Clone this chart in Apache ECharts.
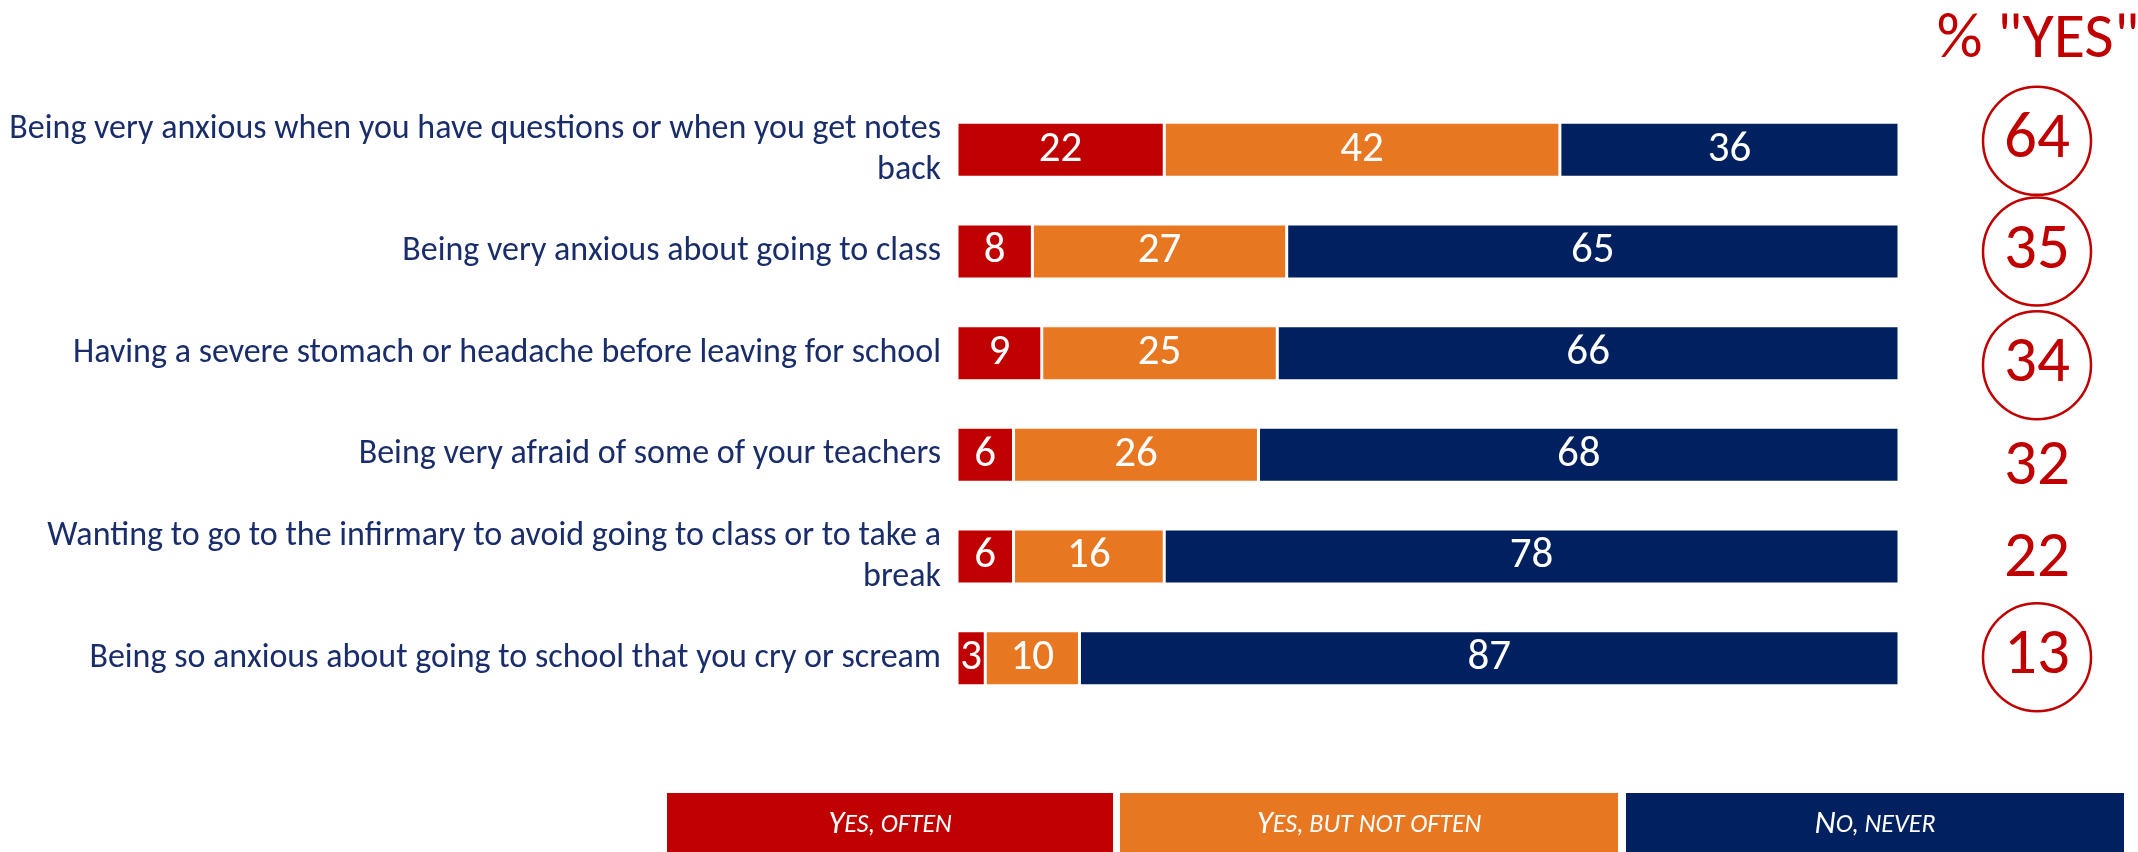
<!DOCTYPE html>
<html>
<head>
<meta charset="utf-8">
<title>School anxiety</title>
<script src="https://cdn.jsdelivr.net/npm/echarts@6/dist/echarts.min.js"></script>
<style>
  html, body { margin: 0; padding: 0; background: #ffffff; }
  #chart { width: 2138px; height: 852px; }
</style>
</head>
<body>
<div id="chart"></div>
<script>
// Survey items (top to bottom)
const categories = [
  'Being very anxious when you have questions or when you get notes\nback',
  'Being very anxious about going to class',
  'Having a severe stomach or headache before leaving for school',
  'Being very afraid of some of your teachers',
  'Wanting to go to the infirmary to avoid going to class or to take a\nbreak',
  'Being so anxious about going to school that you cry or scream'
];

// Answer shares, in percent
const yesOften    = [22, 8, 9, 6, 6, 3];
const yesNotOften = [42, 27, 25, 26, 16, 10];
const noNever     = [36, 65, 66, 68, 78, 87];

// Total "yes" column and which totals are ringed
const yesTotal  = [64, 35, 34, 32, 22, 13];
const yesRinged = [true, true, true, false, false, true];

const seriesNames = ['Yes, often', 'Yes, but not often', 'No, never'];

const RED = '#C00000';
const ORANGE = '#E87722';
const NAVY = '#00205F';
const TEXT_BLUE = '#1a2d6b';
const FONT = 'Carlito, Lato, "Open Sans", sans-serif';

// small vertical nudges of the "yes" totals column (px)
const totalNudge = [-9, 0, 12, 13, 3, -1];

const GRID_TOP = 99;
const GRID_BOTTOM = 143;

const chart = echarts.init(document.getElementById('chart'), null, { renderer: 'canvas' });

function barSeries(name, values, color) {
  return {
    name: name,
    type: 'bar',
    stack: 'total',
    xAxisIndex: 0,
    yAxisIndex: 0,
    barWidth: 55,
    data: values,
    itemStyle: { color: color, borderColor: '#ffffff', borderWidth: 1.5 },
    label: {
      show: true,
      position: 'inside',
      color: '#ffffff',
      fontFamily: FONT,
      fontSize: 43,
      formatter: p => String(p.value)
    },
    emphasis: { disabled: true }
  };
}

// legend boxes drawn as blocks under the bars
function legendBox(x, w, color, big, small) {
  return {
    type: 'group',
    left: x,
    top: 793,
    children: [
      { type: 'rect', shape: { x: 0, y: 0, width: w, height: 60 }, style: { fill: color } },
      {
        type: 'text',
        x: w / 2,
        y: 32,
        style: {
          text: '{a|' + big + '}{b|' + small + '}',
          align: 'center',
          verticalAlign: 'middle',
          rich: {
            a: { fontFamily: FONT, fontStyle: 'italic', fontSize: 33, fill: '#ffffff', color: '#ffffff' },
            b: { fontFamily: FONT, fontStyle: 'italic', fontSize: 26, fill: '#ffffff', color: '#ffffff' }
          }
        }
      }
    ]
  };
}

const option = {
  backgroundColor: '#ffffff',
  animation: false,
  title: {
    text: '% "YES"',
    left: 2033,
    top: 4,
    textAlign: 'center',
    textStyle: { color: RED, fontFamily: FONT, fontSize: 64, fontWeight: 'normal' }
  },
  grid: [
    { left: 957, width: 942, top: GRID_TOP, bottom: GRID_BOTTOM },
    { left: 1983, width: 108, top: GRID_TOP, bottom: GRID_BOTTOM }
  ],
  xAxis: [
    { gridIndex: 0, type: 'value', min: 0, max: 100, show: false },
    { gridIndex: 1, type: 'value', min: 0, max: 2, show: false }
  ],
  yAxis: [
    {
      gridIndex: 0,
      type: 'category',
      inverse: true,
      data: categories,
      axisLine: { show: false },
      axisTick: { show: false },
      splitLine: { show: false },
      axisLabel: {
        margin: 16,
        color: TEXT_BLUE,
        fontFamily: FONT,
        fontSize: 34,
        lineHeight: 41,
        align: 'right'
      }
    },
    {
      gridIndex: 1,
      type: 'category',
      inverse: true,
      data: categories,
      show: false
    }
  ],
  series: [
    barSeries(seriesNames[0], yesOften, RED),
    barSeries(seriesNames[1], yesNotOften, ORANGE),
    barSeries(seriesNames[2], noNever, NAVY),
    {
      name: '% yes',
      type: 'scatter',
      xAxisIndex: 1,
      yAxisIndex: 1,
      emphasis: { disabled: true },
      itemStyle: { opacity: 1 },
      data: yesTotal.map((v, i) => ({
        value: [1, i],
        symbol: 'circle',
        symbolSize: yesRinged[i] ? 108 : 1,
        symbolOffset: [0, totalNudge[i]],
        itemStyle: {
          opacity: 1,
          color: 'rgba(255,255,255,0)',
          borderColor: yesRinged[i] ? RED : 'rgba(0,0,0,0)',
          borderWidth: 2.5
        },
        label: {
          show: true,
          position: 'inside',
          formatter: () => String(v),
          color: RED,
          fontFamily: FONT,
          fontSize: 65
        }
      }))
    }
  ],
  graphic: [
    legendBox(667, 446, RED, 'Y', 'ES, OFTEN'),
    legendBox(1120, 498, ORANGE, 'Y', 'ES, BUT NOT OFTEN'),
    legendBox(1626, 498, NAVY, 'N', 'O, NEVER')
  ]
};

chart.setOption(option);
</script>
</body>
</html>
